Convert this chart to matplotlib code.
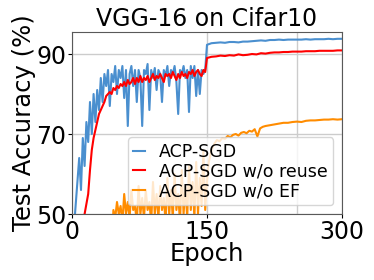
import matplotlib.pyplot as plt
import numpy as np

# epochs 0-148 (every 2), then 150-300
ep_early = np.arange(0, 150, 2)
acp_early = [40, 46, 52, 58, 64, 56, 69, 62, 73, 68,
             78, 70, 80, 73, 81, 76, 84, 78, 85, 82,
             86, 77, 85, 83, 87, 80, 86, 84, 87, 79,
             86, 72, 85, 87, 82, 86, 78, 86, 84, 72,
             86, 85, 87.5, 76, 86, 84, 86.5, 81, 86, 85,
             78, 86, 84.5, 87, 82, 86, 85, 87, 83, 75,
             86, 85, 87, 84, 86, 75.5, 87, 84, 87, 79.5,
             86, 80, 86, 85, 86]
noreuse_early = [30, 33, 36, 39, 42, 44, 47, 50, 52.5, 55,
                 61, 66, 69, 71, 73, 75, 76, 77, 78, 79.5,
                 80, 80.5, 80, 81.5, 81, 82, 81.5, 82.5, 82, 83,
                 82, 83.5, 82.5, 83, 84, 82.5, 84, 83, 84.5, 83,
                 84, 83.5, 84.5, 83, 84, 85, 83.5, 84.5, 84, 85,
                 84, 83, 85, 84.5, 85, 84, 85.5, 84.5, 83.5, 85,
                 84, 85.5, 84.5, 85, 84, 85.5, 85, 86, 84.5, 85.5,
                 86, 85, 84.5, 86, 85.5]

ep_late = np.arange(150, 301, 5)
acp_late = [92.3, 92.7, 92.8, 92.9, 92.8, 93.0, 93.0, 92.9, 93.1, 93.1,
            93.2, 93.3, 93.4, 93.3, 93.5, 93.5, 93.6, 93.5, 93.6, 93.6,
            93.6, 93.6, 93.7, 93.6, 93.7, 93.7, 93.7, 93.8, 93.7, 93.8, 93.8]
noreuse_late = [89.0, 89.3, 89.4, 89.6, 89.5, 89.7, 89.6, 89.9, 89.7, 89.8,
                90.0, 89.9, 90.2, 90.1, 90.3, 90.4, 90.4, 90.5, 90.5, 90.6,
                90.6, 90.6, 90.7, 90.7, 90.7, 90.8, 90.8, 90.8, 90.8, 90.9, 90.9]

ep_noef_early = np.arange(44, 150, 2)
noef_early = [40, 51, 49, 53, 50, 52, 48, 55, 50, 53,
              49, 56, 51, 52, 48, 57, 50, 54, 49, 56,
              51, 53, 48, 58, 50, 55, 49, 57, 51, 54,
              48, 59, 50, 56, 49, 60, 51, 55, 48, 61,
              50, 57, 49, 62, 51, 58, 49, 63, 50, 59,
              52, 66, 51]
ep_noef_late = [150, 152, 155, 158, 161, 164, 167, 170, 173, 176,
                179, 182, 185, 188, 191, 194, 197, 200, 203, 206,
                209, 212, 215, 220, 225, 230, 235, 240, 245, 250,
                255, 260, 265, 270, 275, 280, 285, 290, 295, 300]
noef_late = [58, 63, 66, 67.5, 68.5, 68.2, 69.0, 68.8, 69.5, 69.2,
             69.8, 70.0, 69.6, 70.3, 70.5, 70.2, 70.8, 70.6, 71.2, 69.4,
             71.4, 71.8, 72.0, 72.2, 72.4, 72.6, 72.8, 72.8, 73.0, 73.1,
             73.0, 73.3, 73.4, 73.4, 73.5, 73.6, 73.6, 73.7, 73.6, 73.7]

epochs_acp = np.concatenate([ep_early, ep_late])
epochs_noef = np.concatenate([ep_noef_early, ep_noef_late])
acp = acp_early + acp_late
noreuse = noreuse_early + noreuse_late
noef = noef_early + noef_late

fig = plt.figure(figsize=(3.74, 2.8), dpi=100)
ax = fig.add_axes([0.1925, 0.2357, 0.7219, 0.65])

ax.plot(epochs_acp, acp, color="#4a8fcf", lw=1.5, label="ACP-SGD")
ax.plot(epochs_acp, noreuse, color="red", lw=1.5, label="ACP-SGD w/o reuse")
ax.plot(epochs_noef, noef, color="darkorange", lw=1.5, label="ACP-SGD w/o EF")

ax.set_xlim(0, 300)
ax.set_ylim(50, 95.5)
ax.set_xticks([0, 150, 300])
ax.set_yticks([50, 70, 90])
ax.grid(True, color="#cccccc", lw=1)
ax.axvline(250, color="#cccccc", lw=1, zorder=0.5)
ax.set_axisbelow(True)
for s in ax.spines.values():
    s.set_color("0.35")

ax.set_title("VGG-16 on Cifar10", fontsize=17, pad=4)
ax.set_xlabel("Epoch", fontsize=17.5, labelpad=-1)
ax.set_ylabel("Test Accuracy (%)", fontsize=17.5, labelpad=0)
ax.tick_params(axis="both", labelsize=17, length=3, pad=1)

ax.legend(loc="lower right", fontsize=12.5, handlelength=0.7,
          framealpha=0.8, borderpad=0.3, labelspacing=0.1, handletextpad=0.8)

fig.savefig("out.png", dpi=100)
